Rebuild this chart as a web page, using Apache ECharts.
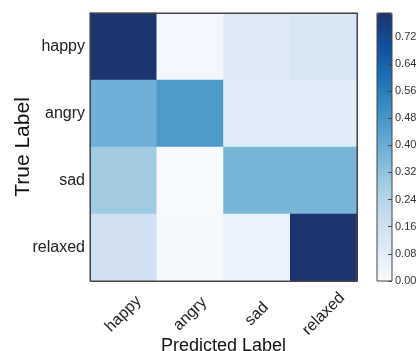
<!DOCTYPE html>
<html>
<head>
<meta charset="utf-8">
<script src="https://cdn.jsdelivr.net/npm/echarts@6/dist/echarts.min.js"></script>
<style>html,body{margin:0;padding:0;background:#fff}#c{width:418px;height:351px}</style>
</head>
<body>
<div id="c"></div>
<script>
const classes = ['happy', 'angry', 'sad', 'relaxed'];
const rowHappy   = [0.79, 0.02, 0.10, 0.13];
const rowAngry   = [0.39, 0.47, 0.09, 0.09];
const rowSad     = [0.29, 0.00, 0.37, 0.37];
const rowRelaxed = [0.16, 0.01, 0.05, 0.79];
const colorbarTicks = [0.00, 0.08, 0.16, 0.24, 0.32, 0.40, 0.48, 0.56, 0.64, 0.72];
const vMin = 0.0, vMax = 0.79;
const blues = ['#f7fbff','#deebf7','#c6dbef','#9ecae1','#6baed6','#4292c6','#2171b5','#0f519c','#1c356f'];

const rows = [rowHappy, rowAngry, rowSad, rowRelaxed];
const data = [];
rows.forEach((r, yi) => r.forEach((v, xi) => data.push([xi, yi, v])));

const F = 'Liberation Sans';
const lineC = '#444';
const chart = echarts.init(document.getElementById('c'), null, {renderer: 'canvas'});
chart.setOption({
  animation: false,
  grid: [
    {left: 90, top: 13, width: 267, height: 268, show: true, borderColor: lineC, borderWidth: 1, z: 5, outerBoundsMode: 'none', containLabel: false},
    {left: 377, top: 13, width: 15, height: 268, show: true, borderColor: lineC, borderWidth: 1, backgroundColor: 'transparent', z: 10, outerBoundsMode: 'none', containLabel: false}
  ],
  xAxis: [
    {type: 'category', gridIndex: 0, data: classes, position: 'bottom',
     axisLine: {lineStyle: {color: lineC}}, axisTick: {inside: true, alignWithLabel: true, length: 4, lineStyle: {color: lineC}},
     axisLabel: {rotate: 45, align: 'center', verticalAlign: 'middle', margin: 33, fontFamily: F, fontSize: 16, color: '#222'},
     name: 'Predicted Label', nameLocation: 'middle', nameGap: 56, nameMoveOverlap: false,
     nameTextStyle: {fontFamily: F, fontSize: 18, color: '#111'},
     splitLine: {show: false}, z: 6},
    {type: 'category', gridIndex: 0, data: classes, position: 'top',
     axisLine: {lineStyle: {color: lineC}}, axisTick: {inside: true, alignWithLabel: true, length: 4, lineStyle: {color: lineC}},
     axisLabel: {show: false}, splitLine: {show: false}, z: 6},
    {type: 'category', gridIndex: 1, data: [''], show: false}
  ],
  yAxis: [
    {type: 'category', gridIndex: 0, data: classes, inverse: true, position: 'left',
     axisLine: {lineStyle: {color: lineC}}, axisTick: {inside: true, alignWithLabel: true, length: 4, lineStyle: {color: lineC}},
     axisLabel: {margin: 5, fontFamily: F, fontSize: 16, color: '#222'},
     name: 'True Label', nameLocation: 'middle', nameGap: 56, nameRotate: 90, nameMoveOverlap: false,
     nameTextStyle: {fontFamily: F, fontSize: 21, color: '#111'},
     splitLine: {show: false}, z: 6},
    {type: 'category', gridIndex: 0, data: classes, inverse: true, position: 'right',
     axisLine: {lineStyle: {color: lineC}}, axisTick: {inside: true, alignWithLabel: true, length: 4, lineStyle: {color: lineC}},
     axisLabel: {show: false}, splitLine: {show: false}, z: 6},
    {type: 'value', gridIndex: 1, position: 'right', min: vMin, max: vMax, interval: 0.08,
     axisLine: {show: false}, axisTick: {show: true, inside: true, length: 4, lineStyle: {color: lineC}},
     axisLabel: {margin: 3, fontFamily: F, fontSize: 11, color: '#333', showMaxLabel: false,
       formatter: v => colorbarTicks.some(t => Math.abs(t - v) < 1e-6) ? v.toFixed(2) : ''},
     splitLine: {show: false}, z: 10}
  ],
  visualMap: {
    type: 'continuous', min: vMin, max: vMax, seriesIndex: 0, calculable: false, show: true,
    orient: 'vertical', left: 377, top: 13, itemWidth: 15, itemHeight: 268, padding: 0,
    inRange: {color: blues}
  },
  series: [{
    type: 'heatmap', xAxisIndex: 0, yAxisIndex: 0, data: data,
    itemStyle: {borderWidth: 0}, emphasis: {disabled: true}
  }]
});
</script>
</body>
</html>
